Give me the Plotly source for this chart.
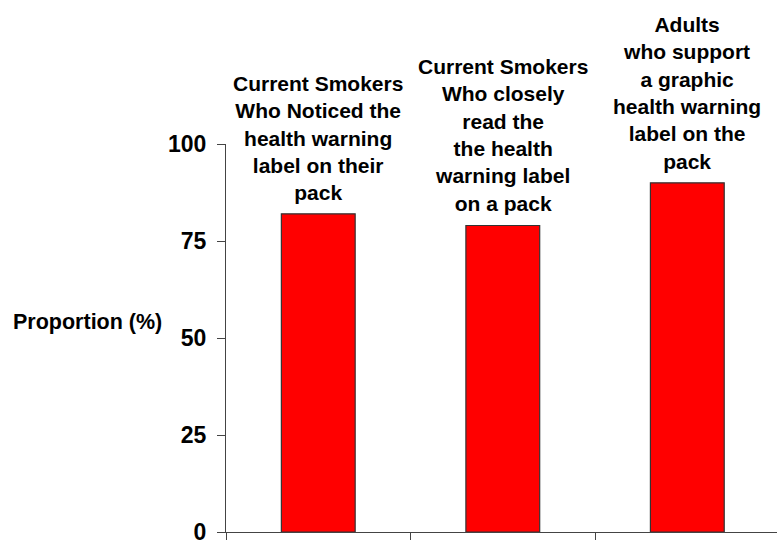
import plotly.graph_objects as go

categories = [
    "Current Smokers<br>Who Noticed the<br>health warning<br>label on their<br>pack",
    "Current Smokers<br>Who closely<br>read the<br>the health<br>warning label<br>on a pack",
    "Adults<br>who support<br>a graphic<br>health warning<br>label on the<br>pack",
]
values = [82, 79, 90]
y_ticks = [0, 25, 50, 75, 100]
y_title = "Proportion (%)"

FONT = "Liberation Sans, Arial, sans-serif"
x_pos = list(range(len(values)))

fig = go.Figure()
fig.add_trace(go.Bar(
    x=x_pos, y=values, width=0.4,
    marker=dict(color="#FF0000", line=dict(color="#333333", width=1.2)),
    hoverinfo="skip",
))

for i, (lab, v) in enumerate(zip(categories, values)):
    fig.add_annotation(
        x=i, y=v, xref="x", yref="y", text="<b>" + lab + "</b>",
        showarrow=False, yanchor="bottom", xanchor="center", align="center",
        yshift=8, font=dict(family=FONT, size=21, color="#000000"),
    )

fig.add_annotation(
    xref="paper", yref="y", x=-0.39, y=54, xanchor="left", yanchor="middle",
    text="<b>" + y_title + "</b>", showarrow=False,
    font=dict(family=FONT, size=21.5, color="#000000"),
)

fig.update_layout(
    width=777, height=544,
    margin=dict(l=226, r=0, t=144, b=12),
    plot_bgcolor="white", paper_bgcolor="white",
    showlegend=False,
    font=dict(family=FONT),
)
fig.update_xaxes(
    range=[-0.5, 2.486], tickmode="array", tickvals=[-0.5, 0.5, 1.5, 2.5],
    showticklabels=False, ticks="outside", ticklen=7, tickcolor="#444444",
    showline=True, linecolor="#444444", linewidth=1.2, showgrid=False,
    zeroline=False,
)
fig.update_yaxes(
    range=[0, 100], tickmode="array", tickvals=y_ticks,
    ticktext=[str(t) for t in y_ticks],
    ticks="outside", ticklen=8, tickcolor="#444444",
    showline=True, linecolor="#444444", linewidth=1.2, showgrid=False,
    zeroline=False, ticklabelstandoff=6, ticklabeloverflow="allow",
    tickfont=dict(family=FONT, size=23, color="#000000", weight="bold"),
)

fig.write_html("out.html")
